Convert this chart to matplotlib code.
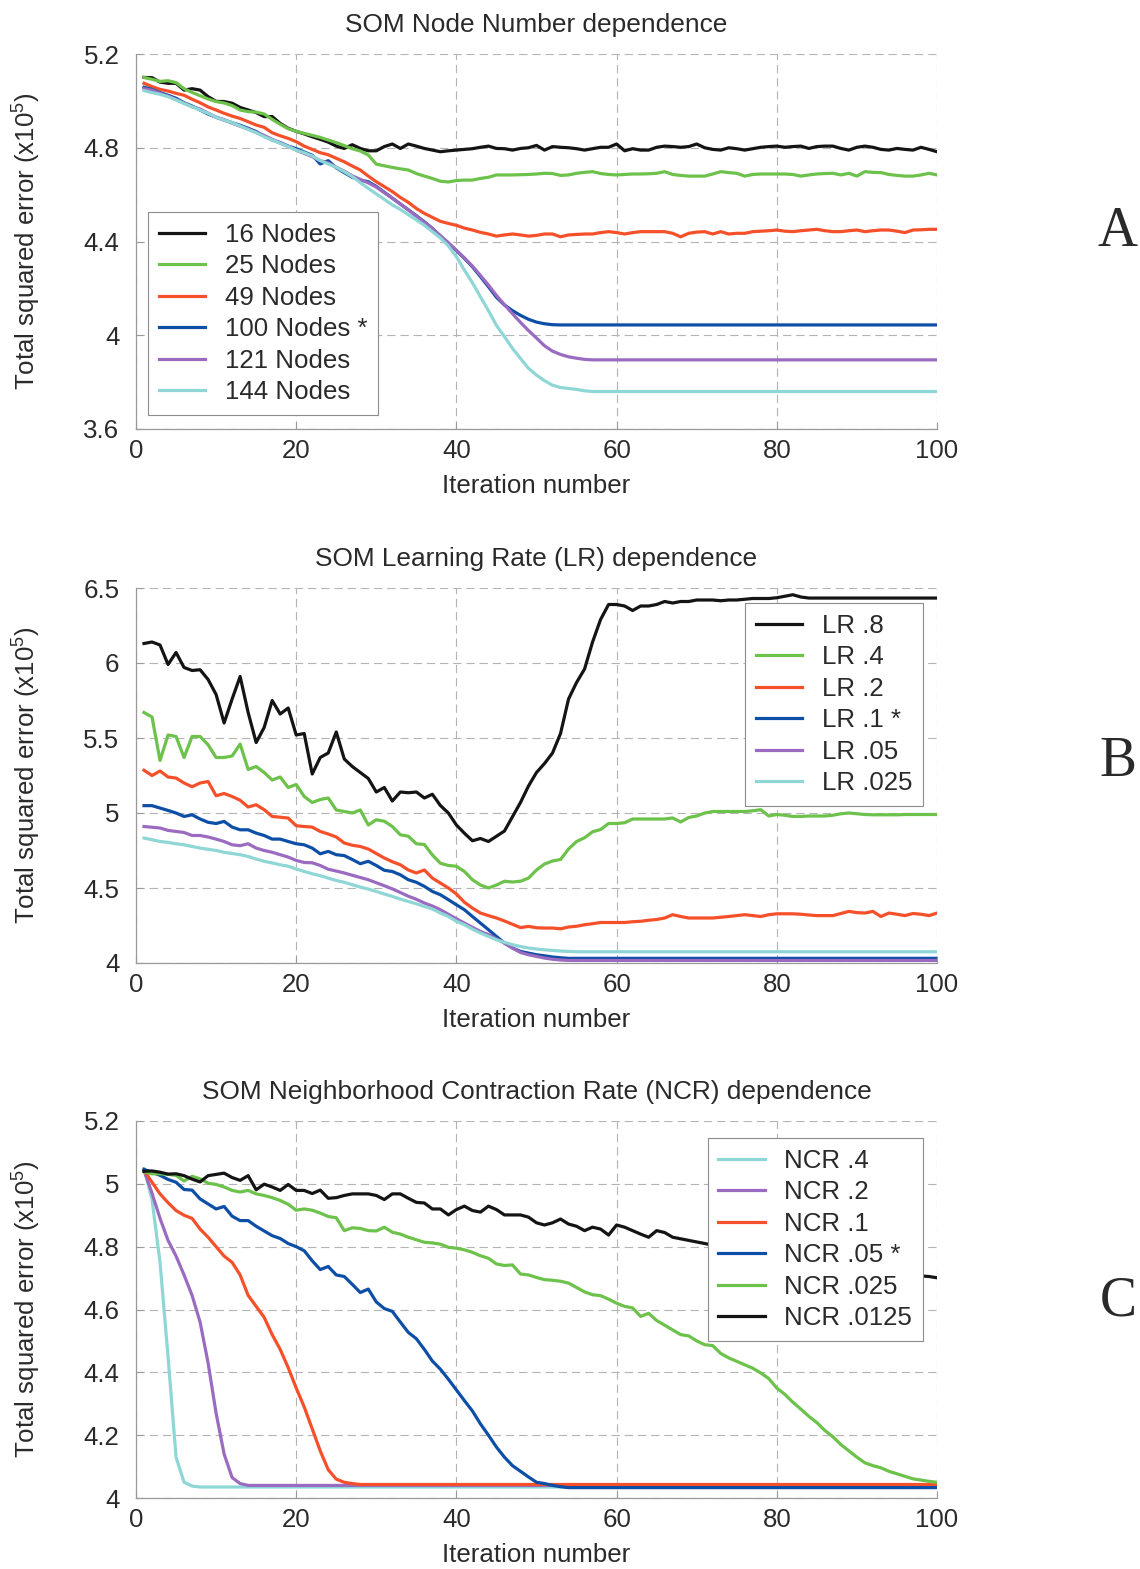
import matplotlib
matplotlib.use('Agg')
import matplotlib.pyplot as plt
import numpy as np

plt.rcParams['font.family'] = ['Liberation Sans', 'DejaVu Sans']
plt.rcParams['mathtext.default'] = 'regular'
plt.rcParams['lines.scale_dashes'] = False

# ---------------- data ----------------
x_ticks = [0, 20, 40, 60, 80, 100]

# Panel A: node number
A_labels = ['16 Nodes', '25 Nodes', '49 Nodes', '100 Nodes *', '121 Nodes', '144 Nodes']
A_16 = [5.100, 5.099, 5.080, 5.075, 5.075, 5.046, 5.052, 5.046, 5.018, 4.998,
        4.997, 4.990, 4.972, 4.961, 4.950, 4.933, 4.933, 4.904, 4.883, 4.870,
        4.859, 4.847, 4.836, 4.824, 4.807, 4.797, 4.813, 4.797, 4.787, 4.787,
        4.805, 4.816, 4.797, 4.816, 4.807, 4.797, 4.790, 4.783, 4.787, 4.790,
        4.793, 4.796, 4.802, 4.807, 4.797, 4.796, 4.790, 4.797, 4.800, 4.810,
        4.790, 4.805, 4.802, 4.800, 4.796, 4.790, 4.796, 4.802, 4.802, 4.816,
        4.787, 4.796, 4.790, 4.790, 4.802, 4.807, 4.805, 4.802, 4.805, 4.816,
        4.800, 4.793, 4.790, 4.800, 4.796, 4.790, 4.796, 4.802, 4.805, 4.807,
        4.802, 4.805, 4.807, 4.797, 4.805, 4.807, 4.807, 4.797, 4.790, 4.802,
        4.807, 4.802, 4.793, 4.790, 4.797, 4.793, 4.790, 4.802, 4.793, 4.783]
A_25 = [5.100, 5.092, 5.083, 5.086, 5.078, 5.052, 5.036, 5.022, 5.008, 4.997,
        4.991, 4.980, 4.961, 4.954, 4.952, 4.944, 4.921, 4.900, 4.881, 4.870,
        4.861, 4.853, 4.844, 4.833, 4.822, 4.809, 4.796, 4.786, 4.769, 4.730,
        4.723, 4.716, 4.710, 4.705, 4.690, 4.679, 4.669, 4.657, 4.654, 4.660,
        4.662, 4.662, 4.669, 4.674, 4.684, 4.684, 4.684, 4.685, 4.686, 4.688,
        4.691, 4.690, 4.682, 4.684, 4.691, 4.695, 4.698, 4.690, 4.686, 4.684,
        4.686, 4.688, 4.688, 4.689, 4.691, 4.698, 4.686, 4.682, 4.679, 4.679,
        4.679, 4.688, 4.698, 4.694, 4.691, 4.679, 4.686, 4.688, 4.688, 4.688,
        4.688, 4.686, 4.679, 4.684, 4.688, 4.690, 4.691, 4.684, 4.691, 4.679,
        4.698, 4.695, 4.694, 4.686, 4.682, 4.679, 4.679, 4.684, 4.691, 4.684]
A_49 = [5.075, 5.061, 5.049, 5.042, 5.032, 5.024, 5.007, 4.992, 4.974, 4.961,
        4.947, 4.935, 4.925, 4.911, 4.897, 4.887, 4.864, 4.851, 4.840, 4.826,
        4.807, 4.793, 4.779, 4.770, 4.755, 4.740, 4.722, 4.705, 4.679, 4.655,
        4.634, 4.613, 4.588, 4.567, 4.541, 4.520, 4.503, 4.486, 4.477, 4.469,
        4.457, 4.449, 4.439, 4.432, 4.423, 4.428, 4.432, 4.428, 4.423, 4.426,
        4.432, 4.432, 4.420, 4.428, 4.430, 4.432, 4.432, 4.438, 4.442, 4.438,
        4.432, 4.438, 4.442, 4.442, 4.442, 4.442, 4.435, 4.420, 4.435, 4.440,
        4.442, 4.432, 4.442, 4.432, 4.435, 4.435, 4.442, 4.444, 4.446, 4.449,
        4.444, 4.442, 4.446, 4.449, 4.452, 4.446, 4.442, 4.442, 4.446, 4.449,
        4.442, 4.446, 4.449, 4.449, 4.444, 4.438, 4.449, 4.450, 4.452, 4.452]
A_100 = [5.058, 5.049, 5.035, 5.024, 5.011, 4.992, 4.978, 4.961, 4.944, 4.930,
         4.918, 4.907, 4.896, 4.883, 4.869, 4.850, 4.833, 4.822, 4.807, 4.796,
         4.782, 4.768, 4.731, 4.745, 4.714, 4.694, 4.674, 4.662, 4.655, 4.635,
         4.610, 4.585, 4.560, 4.535, 4.510, 4.484, 4.456, 4.423, 4.392, 4.361,
         4.328, 4.292, 4.250, 4.207, 4.162, 4.129, 4.105, 4.085, 4.068, 4.056,
         4.049, 4.045, 4.044, 4.044, 4.044, 4.044, 4.044, 4.044, 4.044, 4.044,
         4.044, 4.044, 4.044, 4.044, 4.044, 4.044, 4.044, 4.044, 4.044, 4.044,
         4.044, 4.044, 4.044, 4.044, 4.044, 4.044, 4.044, 4.044, 4.044, 4.044,
         4.044, 4.044, 4.044, 4.044, 4.044, 4.044, 4.044, 4.044, 4.044, 4.044,
         4.044, 4.044, 4.044, 4.044, 4.044, 4.044, 4.044, 4.044, 4.044, 4.044]
A_121 = [5.052, 5.046, 5.032, 5.020, 5.006, 4.990, 4.975, 4.965, 4.948, 4.930,
         4.920, 4.905, 4.892, 4.880, 4.866, 4.852, 4.836, 4.820, 4.806, 4.790,
         4.776, 4.762, 4.745, 4.735, 4.717, 4.700, 4.680, 4.665, 4.650, 4.632,
         4.608, 4.585, 4.560, 4.535, 4.508, 4.482, 4.455, 4.425, 4.395, 4.362,
         4.330, 4.295, 4.255, 4.214, 4.170, 4.130, 4.092, 4.055, 4.020, 3.988,
         3.955, 3.932, 3.918, 3.908, 3.902, 3.897, 3.895, 3.895, 3.895, 3.895,
         3.895, 3.895, 3.895, 3.895, 3.895, 3.895, 3.895, 3.895, 3.895, 3.895,
         3.895, 3.895, 3.895, 3.895, 3.895, 3.895, 3.895, 3.895, 3.895, 3.895,
         3.895, 3.895, 3.895, 3.895, 3.895, 3.895, 3.895, 3.895, 3.895, 3.895,
         3.895, 3.895, 3.895, 3.895, 3.895, 3.895, 3.895, 3.895, 3.895, 3.895]
A_144 = [5.044, 5.035, 5.028, 5.018, 5.004, 4.989, 4.975, 4.961, 4.947, 4.930,
         4.918, 4.907, 4.893, 4.878, 4.864, 4.847, 4.833, 4.819, 4.805, 4.790,
         4.779, 4.765, 4.745, 4.731, 4.716, 4.698, 4.677, 4.651, 4.627, 4.603,
         4.580, 4.556, 4.537, 4.514, 4.492, 4.469, 4.442, 4.415, 4.381, 4.335,
         4.278, 4.224, 4.164, 4.105, 4.042, 3.994, 3.944, 3.901, 3.859, 3.830,
         3.806, 3.787, 3.777, 3.773, 3.769, 3.763, 3.760, 3.760, 3.760, 3.760,
         3.760, 3.760, 3.760, 3.760, 3.760, 3.760, 3.760, 3.760, 3.760, 3.760,
         3.760, 3.760, 3.760, 3.760, 3.760, 3.760, 3.760, 3.760, 3.760, 3.760,
         3.760, 3.760, 3.760, 3.760, 3.760, 3.760, 3.760, 3.760, 3.760, 3.760,
         3.760, 3.760, 3.760, 3.760, 3.760, 3.760, 3.760, 3.760, 3.760, 3.760]

# Panel B: learning rate
B_labels = ['LR .8', 'LR .4', 'LR .2', 'LR .1 *', 'LR .05', 'LR .025']
B_08 = [6.130, 6.140, 6.120, 5.990, 6.070, 5.970, 5.950, 5.955, 5.890, 5.790,
        5.600, 5.760, 5.910, 5.670, 5.470, 5.570, 5.750, 5.660, 5.700, 5.520,
        5.530, 5.260, 5.370, 5.400, 5.540, 5.360, 5.310, 5.270, 5.230, 5.140,
        5.170, 5.080, 5.140, 5.135, 5.140, 5.100, 5.125, 5.050, 5.000, 4.920,
        4.865, 4.815, 4.830, 4.810, 4.845, 4.880, 4.975, 5.070, 5.180, 5.270,
        5.330, 5.400, 5.530, 5.760, 5.870, 5.960, 6.140, 6.290, 6.390, 6.390,
        6.380, 6.350, 6.380, 6.380, 6.390, 6.410, 6.400, 6.410, 6.410, 6.420,
        6.420, 6.420, 6.415, 6.420, 6.420, 6.425, 6.430, 6.430, 6.430, 6.435,
        6.445, 6.455, 6.440, 6.433, 6.433, 6.433, 6.433, 6.433, 6.433, 6.433,
        6.433, 6.433, 6.433, 6.433, 6.433, 6.433, 6.433, 6.433, 6.433, 6.433]
B_04 = [5.670, 5.640, 5.350, 5.520, 5.510, 5.370, 5.510, 5.510, 5.455, 5.370,
        5.370, 5.380, 5.460, 5.290, 5.310, 5.270, 5.220, 5.240, 5.170, 5.190,
        5.110, 5.070, 5.090, 5.100, 5.020, 5.010, 5.000, 5.020, 4.920, 4.955,
        4.945, 4.910, 4.855, 4.845, 4.795, 4.790, 4.720, 4.665, 4.650, 4.645,
        4.610, 4.555, 4.520, 4.500, 4.520, 4.545, 4.540, 4.545, 4.566, 4.620,
        4.660, 4.680, 4.690, 4.760, 4.810, 4.835, 4.875, 4.890, 4.930, 4.930,
        4.935, 4.960, 4.960, 4.960, 4.960, 4.960, 4.967, 4.940, 4.970, 4.980,
        5.000, 5.010, 5.010, 5.010, 5.010, 5.010, 5.015, 5.022, 4.980, 4.990,
        4.985, 4.977, 4.977, 4.980, 4.980, 4.980, 4.985, 4.995, 5.000, 4.995,
        4.990, 4.988, 4.988, 4.988, 4.988, 4.990, 4.990, 4.990, 4.990, 4.990]
B_02 = [5.285, 5.250, 5.280, 5.240, 5.233, 5.200, 5.175, 5.200, 5.210, 5.115,
        5.130, 5.110, 5.085, 5.040, 5.055, 5.022, 4.977, 4.972, 4.966, 4.915,
        4.910, 4.906, 4.877, 4.860, 4.840, 4.800, 4.785, 4.777, 4.760, 4.730,
        4.700, 4.675, 4.655, 4.620, 4.600, 4.620, 4.566, 4.533, 4.500, 4.460,
        4.405, 4.366, 4.333, 4.316, 4.300, 4.280, 4.258, 4.236, 4.244, 4.235,
        4.233, 4.233, 4.228, 4.240, 4.245, 4.255, 4.262, 4.270, 4.270, 4.270,
        4.270, 4.275, 4.278, 4.285, 4.290, 4.300, 4.322, 4.310, 4.300, 4.300,
        4.300, 4.300, 4.305, 4.310, 4.316, 4.322, 4.316, 4.310, 4.322, 4.328,
        4.328, 4.328, 4.325, 4.320, 4.316, 4.316, 4.316, 4.330, 4.344, 4.336,
        4.333, 4.344, 4.310, 4.333, 4.325, 4.316, 4.330, 4.325, 4.316, 4.333]
B_01 = [5.049, 5.049, 5.033, 5.017, 5.000, 4.977, 4.988, 4.960, 4.938, 4.930,
        4.944, 4.906, 4.888, 4.888, 4.866, 4.850, 4.826, 4.826, 4.810, 4.795,
        4.788, 4.766, 4.728, 4.744, 4.722, 4.716, 4.690, 4.662, 4.678, 4.650,
        4.618, 4.610, 4.588, 4.555, 4.538, 4.511, 4.477, 4.455, 4.422, 4.388,
        4.355, 4.310, 4.266, 4.222, 4.177, 4.133, 4.100, 4.077, 4.066, 4.055,
        4.048, 4.040, 4.035, 4.031, 4.031, 4.031, 4.031, 4.031, 4.031, 4.031,
        4.031, 4.031, 4.031, 4.031, 4.031, 4.031, 4.031, 4.031, 4.031, 4.031,
        4.031, 4.031, 4.031, 4.031, 4.031, 4.031, 4.031, 4.031, 4.031, 4.031,
        4.031, 4.031, 4.031, 4.031, 4.031, 4.031, 4.031, 4.031, 4.031, 4.031,
        4.031, 4.031, 4.031, 4.031, 4.031, 4.031, 4.031, 4.031, 4.031, 4.031]
B_005 = [4.910, 4.905, 4.900, 4.884, 4.877, 4.870, 4.850, 4.850, 4.840, 4.826,
         4.810, 4.788, 4.782, 4.795, 4.766, 4.750, 4.738, 4.722, 4.706, 4.684,
         4.670, 4.668, 4.650, 4.625, 4.613, 4.600, 4.585, 4.570, 4.555, 4.535,
         4.515, 4.494, 4.470, 4.445, 4.425, 4.400, 4.380, 4.355, 4.325, 4.295,
         4.266, 4.238, 4.210, 4.190, 4.160, 4.133, 4.100, 4.070, 4.055, 4.044,
         4.033, 4.025, 4.020, 4.017, 4.017, 4.017, 4.017, 4.017, 4.017, 4.017,
         4.017, 4.017, 4.017, 4.017, 4.017, 4.017, 4.017, 4.017, 4.017, 4.017,
         4.017, 4.017, 4.017, 4.017, 4.017, 4.017, 4.017, 4.017, 4.017, 4.017,
         4.017, 4.017, 4.017, 4.017, 4.017, 4.017, 4.017, 4.017, 4.017, 4.017,
         4.017, 4.017, 4.017, 4.017, 4.017, 4.017, 4.017, 4.017, 4.017, 4.017]
B_0025 = [4.833, 4.822, 4.810, 4.804, 4.795, 4.788, 4.777, 4.766, 4.758, 4.750,
          4.738, 4.730, 4.722, 4.710, 4.693, 4.678, 4.667, 4.655, 4.645, 4.627,
          4.610, 4.595, 4.582, 4.566, 4.550, 4.538, 4.522, 4.506, 4.493, 4.477,
          4.460, 4.444, 4.426, 4.410, 4.395, 4.377, 4.360, 4.333, 4.310, 4.278,
          4.255, 4.226, 4.200, 4.177, 4.155, 4.138, 4.122, 4.110, 4.100, 4.093,
          4.088, 4.084, 4.080, 4.077, 4.075, 4.075, 4.075, 4.075, 4.075, 4.075,
          4.075, 4.075, 4.075, 4.075, 4.075, 4.075, 4.075, 4.075, 4.075, 4.075,
          4.075, 4.075, 4.075, 4.075, 4.075, 4.075, 4.075, 4.075, 4.075, 4.075,
          4.075, 4.075, 4.075, 4.075, 4.075, 4.075, 4.075, 4.075, 4.075, 4.075,
          4.075, 4.075, 4.075, 4.075, 4.075, 4.075, 4.075, 4.075, 4.075, 4.075]

# Panel C: neighborhood contraction rate
C_labels = ['NCR .4', 'NCR .2', 'NCR .1', 'NCR .05 *', 'NCR .025', 'NCR .0125']
C_4 = [5.048, 4.950, 4.750, 4.450, 4.130, 4.050, 4.038, 4.035, 4.035, 4.035,
       4.035, 4.035, 4.035, 4.035, 4.035, 4.035, 4.035, 4.035, 4.035, 4.035,
       4.035, 4.035, 4.035, 4.035, 4.035, 4.035, 4.035, 4.035, 4.035, 4.035,
       4.035, 4.035, 4.035, 4.035, 4.035, 4.035, 4.035, 4.035, 4.035, 4.035,
       4.035, 4.035, 4.035, 4.035, 4.035, 4.035, 4.035, 4.035, 4.035, 4.035,
       4.035, 4.035, 4.035, 4.035, 4.035, 4.035, 4.035, 4.035, 4.035, 4.035,
       4.035, 4.035, 4.035, 4.035, 4.035, 4.035, 4.035, 4.035, 4.035, 4.035,
       4.035, 4.035, 4.035, 4.035, 4.035, 4.035, 4.035, 4.035, 4.035, 4.035,
       4.035, 4.035, 4.035, 4.035, 4.035, 4.035, 4.035, 4.035, 4.035, 4.035,
       4.035, 4.035, 4.035, 4.035, 4.035, 4.035, 4.035, 4.035, 4.035, 4.035]
C_2 = [5.043, 4.970, 4.890, 4.820, 4.770, 4.710, 4.645, 4.560, 4.430, 4.270,
       4.140, 4.065, 4.046, 4.040, 4.040, 4.040, 4.040, 4.040, 4.040, 4.040,
       4.040, 4.040, 4.040, 4.040, 4.040, 4.040, 4.040, 4.040, 4.040, 4.040,
       4.040, 4.040, 4.040, 4.040, 4.040, 4.040, 4.040, 4.040, 4.040, 4.040,
       4.040, 4.040, 4.040, 4.040, 4.040, 4.040, 4.040, 4.040, 4.040, 4.040,
       4.040, 4.040, 4.040, 4.040, 4.040, 4.040, 4.040, 4.040, 4.040, 4.040,
       4.040, 4.040, 4.040, 4.040, 4.040, 4.040, 4.040, 4.040, 4.040, 4.040,
       4.040, 4.040, 4.040, 4.040, 4.040, 4.040, 4.040, 4.040, 4.040, 4.040,
       4.040, 4.040, 4.040, 4.040, 4.040, 4.040, 4.040, 4.040, 4.040, 4.040,
       4.040, 4.040, 4.040, 4.040, 4.040, 4.040, 4.040, 4.040, 4.040, 4.040]
C_1 = [5.043, 5.005, 4.968, 4.940, 4.915, 4.900, 4.890, 4.856, 4.830, 4.800,
       4.770, 4.750, 4.710, 4.645, 4.610, 4.575, 4.520, 4.473, 4.415, 4.350,
       4.290, 4.220, 4.150, 4.090, 4.060, 4.050, 4.046, 4.043, 4.043, 4.043,
       4.043, 4.043, 4.043, 4.043, 4.043, 4.043, 4.043, 4.043, 4.043, 4.043,
       4.043, 4.043, 4.043, 4.043, 4.043, 4.043, 4.043, 4.043, 4.043, 4.043,
       4.043, 4.043, 4.043, 4.043, 4.043, 4.043, 4.043, 4.043, 4.043, 4.043,
       4.043, 4.043, 4.043, 4.043, 4.043, 4.043, 4.043, 4.043, 4.043, 4.043,
       4.043, 4.043, 4.043, 4.043, 4.043, 4.043, 4.043, 4.043, 4.043, 4.043,
       4.043, 4.043, 4.043, 4.043, 4.043, 4.043, 4.043, 4.043, 4.043, 4.043,
       4.043, 4.043, 4.043, 4.043, 4.043, 4.043, 4.043, 4.043, 4.043, 4.043]
C_05 = [5.046, 5.037, 5.027, 5.014, 5.005, 4.982, 4.980, 4.952, 4.936, 4.920,
        4.928, 4.897, 4.883, 4.883, 4.865, 4.850, 4.835, 4.826, 4.810, 4.800,
        4.787, 4.755, 4.727, 4.737, 4.710, 4.705, 4.680, 4.654, 4.665, 4.624,
        4.603, 4.594, 4.560, 4.527, 4.507, 4.473, 4.436, 4.410, 4.378, 4.344,
        4.310, 4.277, 4.236, 4.200, 4.162, 4.130, 4.103, 4.085, 4.067, 4.050,
        4.046, 4.040, 4.036, 4.033, 4.033, 4.033, 4.033, 4.033, 4.033, 4.033,
        4.033, 4.033, 4.033, 4.033, 4.033, 4.033, 4.033, 4.033, 4.033, 4.033,
        4.033, 4.033, 4.033, 4.033, 4.033, 4.033, 4.033, 4.033, 4.033, 4.033,
        4.033, 4.033, 4.033, 4.033, 4.033, 4.033, 4.033, 4.033, 4.033, 4.033,
        4.033, 4.033, 4.033, 4.033, 4.033, 4.033, 4.033, 4.033, 4.033, 4.033]
C_025 = [5.038, 5.032, 5.032, 5.030, 5.027, 5.009, 5.024, 5.016, 5.002, 4.998,
         4.990, 4.979, 4.974, 4.979, 4.968, 4.963, 4.956, 4.947, 4.935, 4.916,
         4.920, 4.916, 4.907, 4.896, 4.892, 4.851, 4.860, 4.858, 4.851, 4.850,
         4.862, 4.846, 4.840, 4.830, 4.822, 4.814, 4.812, 4.808, 4.798, 4.795,
         4.790, 4.782, 4.771, 4.763, 4.745, 4.740, 4.742, 4.713, 4.710, 4.702,
         4.695, 4.693, 4.690, 4.684, 4.670, 4.656, 4.647, 4.644, 4.633, 4.620,
         4.610, 4.605, 4.578, 4.588, 4.565, 4.550, 4.535, 4.520, 4.516, 4.500,
         4.488, 4.485, 4.460, 4.446, 4.435, 4.424, 4.413, 4.398, 4.380, 4.350,
         4.330, 4.305, 4.283, 4.260, 4.240, 4.215, 4.195, 4.170, 4.150, 4.130,
         4.112, 4.103, 4.096, 4.085, 4.077, 4.069, 4.061, 4.057, 4.053, 4.050]
C_0125 = [5.040, 5.041, 5.037, 5.031, 5.032, 5.026, 5.015, 5.006, 5.026, 5.030,
          5.034, 5.020, 5.011, 5.026, 4.981, 4.999, 4.990, 4.979, 4.998, 4.979,
          4.979, 4.969, 4.980, 4.954, 4.956, 4.963, 4.968, 4.968, 4.968, 4.963,
          4.950, 4.968, 4.968, 4.954, 4.941, 4.939, 4.920, 4.920, 4.901, 4.918,
          4.929, 4.915, 4.910, 4.929, 4.918, 4.901, 4.901, 4.901, 4.894, 4.876,
          4.869, 4.876, 4.888, 4.872, 4.865, 4.851, 4.862, 4.856, 4.837, 4.869,
          4.862, 4.851, 4.840, 4.830, 4.851, 4.845, 4.830, 4.825, 4.820, 4.815,
          4.810, 4.805, 4.800, 4.790, 4.795, 4.785, 4.780, 4.775, 4.770, 4.770,
          4.765, 4.760, 4.755, 4.750, 4.750, 4.745, 4.740, 4.735, 4.735, 4.730,
          4.725, 4.725, 4.720, 4.715, 4.715, 4.710, 4.710, 4.707, 4.705, 4.701]

# ---------------- style ----------------
BLACK = '#141414'
GREEN = '#6cc24a'
RED = '#f5502a'
BLUE = '#0d4ea6'
PURPLE = '#9a6bc0'
CYAN = '#8fd6d6'
TXT = '#2a2a2a'
AXC = '#9a9a9a'
FS = 18.6
FT = 18.9

W, H = 1140, 1569
fig = plt.figure(figsize=(W / 100, H / 100), dpi=100)


def add_axes(left, top, right, bottom):
    return fig.add_axes([left / W, 1 - bottom / H, (right - left) / W, (bottom - top) / H])


def style(ax, ylim, yticks, title):
    ax.set_xlim(0, 100)
    ax.set_ylim(*ylim)
    ax.set_xticks(x_ticks)
    ax.set_xticklabels(['%g' % t for t in x_ticks])
    ax.set_yticks(yticks)
    ax.set_yticklabels(['%g' % t for t in yticks])
    ax.grid(True, color='#b4b4b4', linestyle=(0, (6, 3.5)), linewidth=0.8)
    ax.set_axisbelow(True)
    for s in ['top', 'right']:
        ax.spines[s].set_visible(False)
    for s in ['left', 'bottom']:
        ax.spines[s].set_color(AXC)
        ax.spines[s].set_linewidth(0.9)
    ax.tick_params(direction='in', length=5, color=AXC, labelsize=FS, labelcolor=TXT)
    ax.tick_params(axis='y', pad=12)
    ax.tick_params(axis='x', pad=7)
    ax.set_title(title, fontsize=FT, color=TXT, pad=16)
    ax.set_xlabel('Iteration number', fontsize=FS, color=TXT, labelpad=8)
    ax.set_ylabel('Total squared error (x10$^{5}$)', fontsize=FS, color=TXT)
    ax.yaxis.set_label_coords(-0.116, 0.5)


def draw(ax, series, colors, labels):
    for y, c, lab in zip(series, colors, labels):
        x = np.arange(1, len(y) + 1)
        ax.plot(x, y, color=c, lw=2.3, label=lab, solid_joinstyle='round')


def legend(ax, loc, anchor):
    lg = ax.legend(loc=loc, bbox_to_anchor=anchor, borderaxespad=0, fontsize=FS,
                   frameon=True, fancybox=False, framealpha=1, edgecolor='#8c8c8c',
                   handlelength=1.8, handletextpad=0.75, labelspacing=0.29,
                   borderpad=0.42)
    lg.get_frame().set_linewidth(0.8)
    for t in lg.get_texts():
        t.set_color(TXT)


axA = add_axes(136, 54, 937, 429)
axB = add_axes(136, 588, 937, 963)
axC = add_axes(136, 1121, 937, 1498)

draw(axA, [A_16, A_25, A_49, A_100, A_121, A_144],
     [BLACK, GREEN, RED, BLUE, PURPLE, CYAN], A_labels)
style(axA, (3.6, 5.2), [3.6, 4.0, 4.4, 4.8, 5.2], 'SOM Node Number dependence')
legend(axA, 'lower left', (0.015, 0.037))

draw(axB, [B_08, B_04, B_02, B_01, B_005, B_0025],
     [BLACK, GREEN, RED, BLUE, PURPLE, CYAN], B_labels)
style(axB, (4.0, 6.5), [4.0, 4.5, 5.0, 5.5, 6.0, 6.5], 'SOM Learning Rate (LR) dependence')
legend(axB, 'upper right', (0.9825, 0.96))

draw(axC, [C_4, C_2, C_1, C_05, C_025, C_0125],
     [CYAN, PURPLE, RED, BLUE, GREEN, BLACK], C_labels)
style(axC, (4.0, 5.2), [4.0, 4.2, 4.4, 4.6, 4.8, 5.0, 5.2],
      'SOM Neighborhood Contraction Rate (NCR) dependence')
legend(axC, 'upper right', (0.9825, 0.955))

for letter, ypx in [('A', 232), ('B', 762), ('C', 1302)]:
    fig.text(1118 / W, 1 - ypx / H, letter, family=['Liberation Serif', 'DejaVu Serif'],
             fontsize=40, color=TXT, ha='center', va='center')

fig.savefig('out.png', dpi=100, facecolor='white')
